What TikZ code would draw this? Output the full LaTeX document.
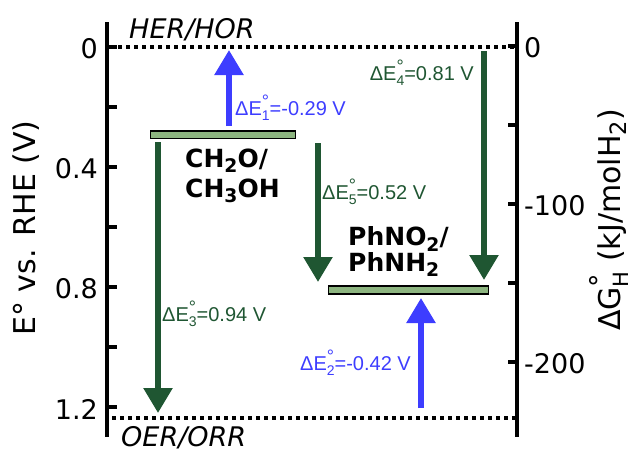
\documentclass[tikz,border=0pt]{standalone}
\usepackage{fontspec}
\usepackage{graphicx}
\setmainfont{DejaVu Sans}
\newfontfamily\arialf{Liberation Sans}
\usetikzlibrary{arrows.meta, positioning}

\definecolor{lvlgreen}{HTML}{8DB580}
\definecolor{darkgreen}{HTML}{1F5632}
\definecolor{arrblue}{HTML}{3D3DFF}

\newcommand{\stk}[2]{\rlap{\raisebox{0.36em}{\scalebox{0.9}{#1}}}\raisebox{-0.28em}{\scalebox{0.7}{#2}}}
\newcommand{\dE}[1]{ΔE\stk{°}{#1}}
\newcommand{\chsub}[1]{\raisebox{-0.22em}{\scalebox{0.75}{#1}}}

\begin{document}
\begin{tikzpicture}[
    x=1pt, y=-1pt,
    axis/.style={line width=4pt},
    axtick/.style={line width=4pt},
    lvl/.style={draw, line width=1.5pt, fill=lvlgreen, inner sep=0pt},
    dotline/.style={line width=4pt, dash pattern=on 4pt off 4pt},
    uparr/.style={arrblue, line width=5.5pt, -{Triangle[length=25pt,width=28pt]}},
    dnarr/.style={darkgreen, line width=5.5pt, -{Triangle[length=25pt,width=28pt]}},
    elab/.style={font=\arialf\fontsize{20}{24}\selectfont, inner sep=0pt},
    chem/.style={font=\bfseries\fontsize{25}{30}\selectfont, align=left, inner sep=0pt},
    ticklab/.style={font=\fontsize{27}{32}\selectfont, inner sep=0pt},
    axlab/.style={font=\fontsize{30}{34}\selectfont, inner sep=0pt, rotate=90},
    rxn/.style={font=\itshape\fontsize{27}{32}\selectfont, inner sep=0pt}
]
\useasboundingbox (0,0) rectangle (633,450);

% axes
\coordinate (lt) at (107,22);  \coordinate (lb) at (107,437);
\coordinate (rt) at (517,22);  \coordinate (rb) at (517,437);
\draw[axis] (lt) -- (lb);
\draw[axis] (rt) -- (rb);
\foreach \k in {0,...,6}
  \draw[axtick] (107,47+60*\k) -- (117,47+60*\k);
\foreach \k/\t in {0/0, 2/0.4, 4/0.8, 6/1.2}
  \node[ticklab, anchor=east] (yl\k) at (98,49+60*\k) {\t};
\foreach \k in {0,...,4}
  \draw[axtick] (508,46+79*\k) -- (517,46+79*\k);
\foreach \k/\t in {0/0, 2/-100, 4/-200}
  \node[ticklab, anchor=west] (gl\k) at (524,48+79*\k) {\t};
\node[axlab] (ylab) at (26,228) {E° vs. RHE (V)};
\node[axlab] (glab) at (609,220) {ΔG\stk{°}{H} (kJ/molH\chsub{2})};

% reference lines
\coordinate (herL) at (110,47);  \coordinate (herR) at (515,47);
\coordinate (oerL) at (112,418); \coordinate (oerR) at (515,418);
\draw[dotline] (herL) -- (herR);
\draw[dotline] (oerL) -- (oerR);
\node[rxn, anchor=base west] (her) at (129,38) {HER/HOR};
\node[rxn, anchor=base west] (oer) at (121,446) {OER/ORR};

% levels
\node[lvl, minimum width=145pt, minimum height=7.5pt] (ch) at (223,134.5) {};
\node[lvl, minimum width=160pt, minimum height=8pt] (ph) at (408.5,290) {};
\node[chem, anchor=base west] (chlab) at (185,197) {CH\chsub{2}O/\\CH\chsub{3}OH};
\node[chem, anchor=base west, font=\bfseries\fontsize{25}{23}\selectfont] (phlab) at (348,271) {PhNO\chsub{2}/\\PhNH\chsub{2}};

% arrows
\coordinate (a1s) at (229,126); \coordinate (a1e) at (229,50);
\coordinate (a2s) at (421,408); \coordinate (a2e) at (421,298);
\coordinate (a3s) at (158,142); \coordinate (a3e) at (158,413);
\coordinate (a4s) at (484,51);  \coordinate (a4e) at (484,280);
\coordinate (a5s) at (318,143); \coordinate (a5e) at (318,282);
\draw[uparr] (a1s) -- (a1e);
\draw[uparr] (a2s) -- (a2e);
\draw[dnarr] (a3s) -- (a3e);
\draw[dnarr] (a4s) -- (a4e);
\draw[dnarr] (a5s) -- (a5e);

\node[elab, text=arrblue, anchor=west] (e1) at (235,108) {\dE{1}=-0.29 V};
\node[elab, text=arrblue, anchor=east] (e2) at (411,363) {\dE{2}=-0.42 V};
\node[elab, text=darkgreen, anchor=west] (e3) at (162,314) {\dE{3}=0.94 V};
\node[elab, text=darkgreen, anchor=east] (e4) at (474,73) {\dE{4}=0.81 V};
\node[elab, text=darkgreen, anchor=west] (e5) at (322,192) {\dE{5}=0.52 V};
\end{tikzpicture}
\end{document}
